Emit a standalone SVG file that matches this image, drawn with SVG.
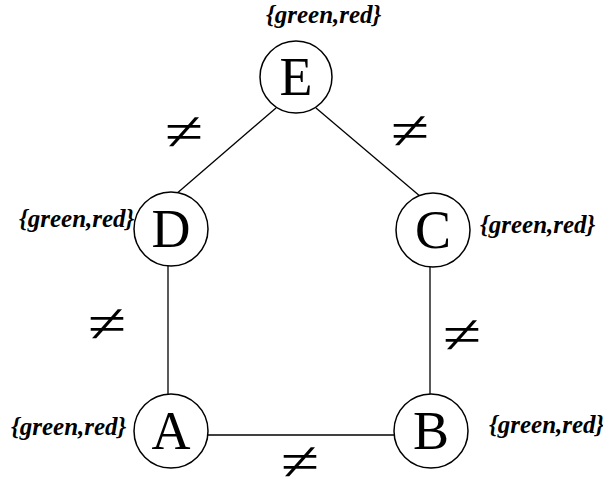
<svg xmlns="http://www.w3.org/2000/svg" width="603" height="480" viewBox="0 0 603 480">
<style>
.node{fill:#fff;stroke:#000;stroke-width:1.5}
.lt{font-family:"Liberation Serif",serif;font-size:54px;text-anchor:middle;fill:#000}
.dom{font-family:"Liberation Serif",serif;font-size:25px;font-weight:bold;font-style:italic;fill:#000}
.ne{font-family:"Liberation Serif",serif;font-size:50px;text-anchor:middle;fill:#000}
.edge{stroke:#000;stroke-width:1.3;fill:none}
</style>
<rect width="603" height="480" fill="#fff"/>
<g id="connectors">
<line class="edge" x1="276" y1="108" x2="175" y2="195"/>
<line class="edge" x1="316" y1="108" x2="421" y2="197"/>
<line class="edge" x1="168" y1="266" x2="168" y2="395"/>
<line class="edge" x1="430" y1="267" x2="430" y2="395"/>
<line class="edge" x1="207" y1="435" x2="394" y2="435"/>
<text class="ne" transform="translate(184,131) scale(1.4,1.1)" y="17">≠</text>
<text class="ne" transform="translate(410,130) scale(1.4,1.1)" y="17">≠</text>
<text class="ne" transform="translate(107,323) scale(1.4,1.1)" y="17">≠</text>
<text class="ne" transform="translate(462,334) scale(1.4,1.1)" y="17">≠</text>
<text class="ne" transform="translate(300,461) scale(1.4,1.1)" y="17">≠</text>
</g>
<g id="E"><circle class="node" cx="296" cy="77" r="36"/><text class="lt" x="296" y="95">E</text><text class="dom" x="266" y="23">{green,red}</text></g>
<g id="D"><circle class="node" cx="171" cy="229" r="37"/><text class="lt" x="171" y="247">D</text><text class="dom" x="19" y="227">{green,red}</text></g>
<g id="C"><circle class="node" cx="433" cy="230" r="37"/><text class="lt" x="433" y="248">C</text><text class="dom" x="480" y="233">{green,red}</text></g>
<g id="A"><circle class="node" cx="171" cy="431" r="37"/><text class="lt" x="171" y="449">A</text><text class="dom" x="11" y="435">{green,red}</text></g>
<g id="B"><circle class="node" cx="431" cy="431" r="37"/><text class="lt" x="431" y="449">B</text><text class="dom" x="489" y="433">{green,red}</text></g>
</svg>
